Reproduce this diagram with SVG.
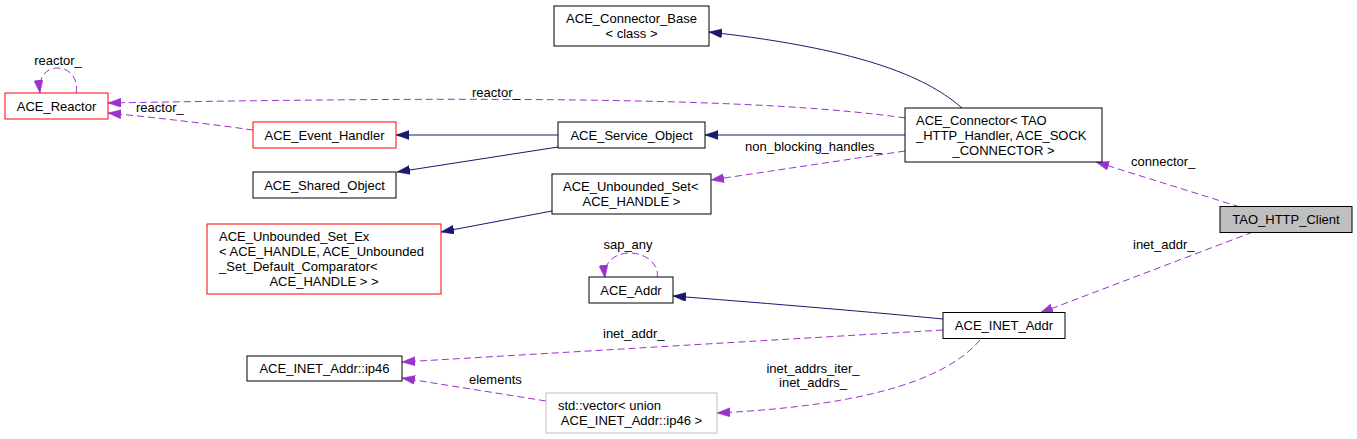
<svg xmlns="http://www.w3.org/2000/svg" width="1357" height="439" viewBox="0 0 1357 439">
<style>
  text { font-family: "Liberation Sans", Arial, Helvetica, sans-serif; font-size: 13px; fill: #000; }
  .c { text-anchor: middle; }
  .l { text-anchor: start; }
  .box { fill: #fff; stroke: #000; stroke-width: 1; }
  .red { fill: #fff; stroke: #ff0000; stroke-width: 1; }
  .gray { fill: #fff; stroke: #bfbfbf; stroke-width: 1; }
  .focus { fill: #bfbfbf; stroke: #000; stroke-width: 1; }
  .inh { fill: none; stroke: #191970; stroke-width: 1; marker-end: url(#an); }
  .use { fill: none; stroke: #9a32cd; stroke-width: 1; stroke-dasharray: 7,4; marker-end: url(#ap); }
</style>
<defs>
  <marker id="an" markerUnits="userSpaceOnUse" markerWidth="14" markerHeight="10" refX="13" refY="4.5" orient="auto">
    <path d="M0,0 L13,4.5 L0,9 z" fill="#191970" stroke="#191970" stroke-width="0.5"/>
  </marker>
  <marker id="ap" markerUnits="userSpaceOnUse" markerWidth="14" markerHeight="10" refX="13" refY="4.5" orient="auto">
    <path d="M0,0 L13,4.5 L0,9 z" fill="#9a32cd" stroke="#9a32cd" stroke-width="0.5"/>
  </marker>
</defs>
<rect width="1357" height="439" fill="#fff"/>

<g id="connectors">
  <path class="inh" d="M962,108 C930,80 870,50 709,32"/>
  <path class="use" d="M905,118 C780,100 550,95 108,103"/>
  <text x="472" y="97" class="l">reactor_</text>
  <path class="use" d="M253,130 C210,124 160,118 108,113"/>
  <text x="136" y="112" class="l">reactor_</text>
  <path class="use" d="M76,93 C79,80 70,68 58,68 C46,68 38,77 40,93"/>
  <text x="58" y="65" class="c">reactor_</text>
  <path class="inh" d="M558,135 L396,135"/>
  <path class="inh" d="M558,147 L397,172"/>
  <path class="inh" d="M905,135 L705,135"/>
  <path class="use" d="M905,151 L711,180"/>
  <text x="745" y="151" class="l">non_blocking_handles_</text>
  <path class="inh" d="M552,211 L441,232"/>
  <path class="use" d="M1240,207 L1096,162"/>
  <text x="1131" y="166" class="l">connector_</text>
  <path class="use" d="M1253,232 L1040,313"/>
  <text x="1133" y="249" class="l">inet_addr_</text>
  <path class="inh" d="M943,319 C850,310 750,302 673,296"/>
  <path class="use" d="M657,278 C660,264 645,253 630,253 C615,253 603,262 605,278"/>
  <text x="628" y="249" class="c">sap_any</text>
  <path class="use" d="M943,330 L402,362"/>
  <text x="603" y="338" class="l">inet_addr_</text>
  <path class="use" d="M980,340 C950,375 880,405 717,413"/>
  <text x="813" y="373" class="c">inet_addrs_iter_</text>
  <text x="813" y="387" class="c">inet_addrs_</text>
  <path class="use" d="M546,401 L402,378"/>
  <text x="469" y="384" class="l">elements</text>
</g>

<g id="ACE_Connector_Base">
  <rect class="box" x="554" y="6" width="155" height="40"/>
  <text x="631.5" y="23" class="c">ACE_Connector_Base</text>
  <text x="631.5" y="38" class="c">&lt; class &gt;</text>
</g>
<g id="ACE_Reactor">
  <rect class="red" x="5" y="93" width="103" height="26"/>
  <text x="56.5" y="110.5" class="c">ACE_Reactor</text>
</g>
<g id="ACE_Event_Handler">
  <rect class="red" x="253" y="122" width="143" height="26"/>
  <text x="324.5" y="139.5" class="c">ACE_Event_Handler</text>
</g>
<g id="ACE_Shared_Object">
  <rect class="box" x="253" y="172" width="143" height="26"/>
  <text x="324.5" y="189.5" class="c">ACE_Shared_Object</text>
</g>
<g id="ACE_Service_Object">
  <rect class="box" x="558" y="122" width="147" height="26"/>
  <text x="631.5" y="139.5" class="c">ACE_Service_Object</text>
</g>
<g id="ACE_Unbounded_Set">
  <rect class="box" x="552" y="174" width="159" height="40"/>
  <text x="563" y="191" class="l">ACE_Unbounded_Set&lt;</text>
  <text x="631.5" y="206" class="c">ACE_HANDLE &gt;</text>
</g>
<g id="ACE_Unbounded_Set_Ex">
  <rect class="red" x="207" y="224" width="234" height="70"/>
  <text x="219" y="241" class="l">ACE_Unbounded_Set_Ex</text>
  <text x="219" y="256" class="l">&lt; ACE_HANDLE, ACE_Unbounded</text>
  <text x="219" y="271" class="l">_Set_Default_Comparator&lt;</text>
  <text x="324" y="286" class="c">ACE_HANDLE &gt; &gt;</text>
</g>
<g id="ACE_Addr">
  <rect class="box" x="589" y="277" width="84" height="26"/>
  <text x="631" y="294.5" class="c">ACE_Addr</text>
</g>
<g id="ACE_Connector">
  <rect class="box" x="905" y="108" width="197" height="54"/>
  <text x="916" y="124.5" class="l">ACE_Connector&lt; TAO</text>
  <text x="916" y="139.5" class="l">_HTTP_Handler, ACE_SOCK</text>
  <text x="1003.5" y="154.5" class="c">_CONNECTOR &gt;</text>
</g>
<g id="TAO_HTTP_Client">
  <rect class="focus" x="1220" y="206.5" width="132" height="26"/>
  <text x="1286" y="224" class="c">TAO_HTTP_Client</text>
</g>
<g id="ACE_INET_Addr">
  <rect class="box" x="943" y="312.5" width="122" height="26"/>
  <text x="1004" y="330" class="c">ACE_INET_Addr</text>
</g>
<g id="ACE_INET_Addr_ip46">
  <rect class="box" x="247" y="356" width="155" height="25"/>
  <text x="324.5" y="373" class="c">ACE_INET_Addr::ip46</text>
</g>
<g id="std_vector">
  <rect class="gray" x="546" y="393" width="171" height="40"/>
  <text x="558" y="410" class="l">std::vector&lt; union</text>
  <text x="631.5" y="425" class="c">ACE_INET_Addr::ip46 &gt;</text>
</g>
</svg>
